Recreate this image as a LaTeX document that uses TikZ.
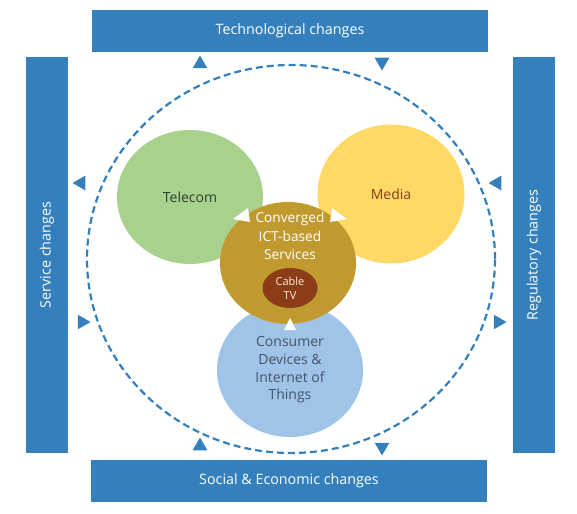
\documentclass[tikz,border=0pt]{standalone}
\usepackage{fontspec}
\setmainfont{Open Sans}
\usepackage{xcolor}
\usetikzlibrary{positioning,shapes.geometric}

\definecolor{barblue}{HTML}{3380BD}
\definecolor{telgreen}{HTML}{A9D18E}
\definecolor{medyellow}{HTML}{FFD966}
\definecolor{convgold}{HTML}{C19A2F}
\definecolor{cablebrown}{HTML}{8A3D17}
\definecolor{devblue}{HTML}{A0C4E8}
\definecolor{devtext}{HTML}{44546A}

\begin{document}
\begin{tikzpicture}[x=1pt,y=-1pt,
                    bar/.style={fill=barblue,text=white,inner sep=0pt,
                                minimum width=396,minimum height=42,
                                font=\fontsize{14.3}{16}\selectfont},
                    bubble/.style={ellipse,inner sep=0pt,align=center,
                                   minimum width=146,minimum height=134,
                                   font=\fontsize{14}{17.7}\selectfont},
                    marker/.style={regular polygon,regular polygon sides=3,
                                   fill=barblue,inner sep=0pt,minimum size=17}]

  \useasboundingbox (0,0) rectangle (577,513);

  % outer loop
  \node[draw=barblue,line width=2.2pt,dash pattern=on 7pt off 4pt,ellipse,
        minimum width=408,minimum height=388] (loop) at (291,259) {};

  % the three sectors and the converged core
  \node[bubble,fill=telgreen,text=telgreen!30!black] (telecom) at (190,197) {Telecom};
  \node[bubble,fill=medyellow,text=cablebrown,minimum width=147,minimum height=139] (media) at (391,194) {Media};
  \node[bubble,fill=devblue,text=devtext] (devices) at (290,370)
        {Consumer\\Devices \&\\Internet of\\Things};
  \node[bubble,fill=convgold,minimum width=136,minimum height=122] (core) at (288,263) {};
  \node[text=white,align=center,font=\fontsize{13.7}{18.5}\selectfont] (corelabel) at (290,236)
        {Converged\\ICT-based\\Services};
  \node[ellipse,fill=cablebrown,text=orange!15,minimum width=55,minimum height=40,
        inner sep=0pt,align=center,font=\fontsize{11}{14}\selectfont] (cable) at (290,288)
        {Cable\\TV};

  % gaps
  \fill[white] (233,219) -- (248,208) -- (250,222) -- cycle;
  \fill[white] (347,219) -- (332,208) -- (330,222) -- cycle;
  \fill[white] (290,318) -- (284,330) -- (296,330) -- cycle;

  % drivers
  \node[bar] (tech) at (290,31) {Technological changes};
  \node[bar] (social) at (289,481) {Social \& Economic changes};
  \node[bar,rotate=90] (service) at (47,255) {Service changes};
  \node[bar,rotate=90] (regul) at (534,255) {Regulatory changes};

  \node[marker] (t1) at (200,64) {};
  \node[marker,rotate=180] (t2) at (382,62) {};
  \node[marker,rotate=90] (l1) at (81,183) {};
  \node[marker,rotate=-90] (l2) at (82,322) {};
  \node[marker,rotate=90] (r1) at (497,183) {};
  \node[marker,rotate=-90] (r2) at (498,322) {};
  \node[marker] (b1) at (200,446) {};
  \node[marker,rotate=180] (b2) at (382,447) {};

\end{tikzpicture}
\end{document}
